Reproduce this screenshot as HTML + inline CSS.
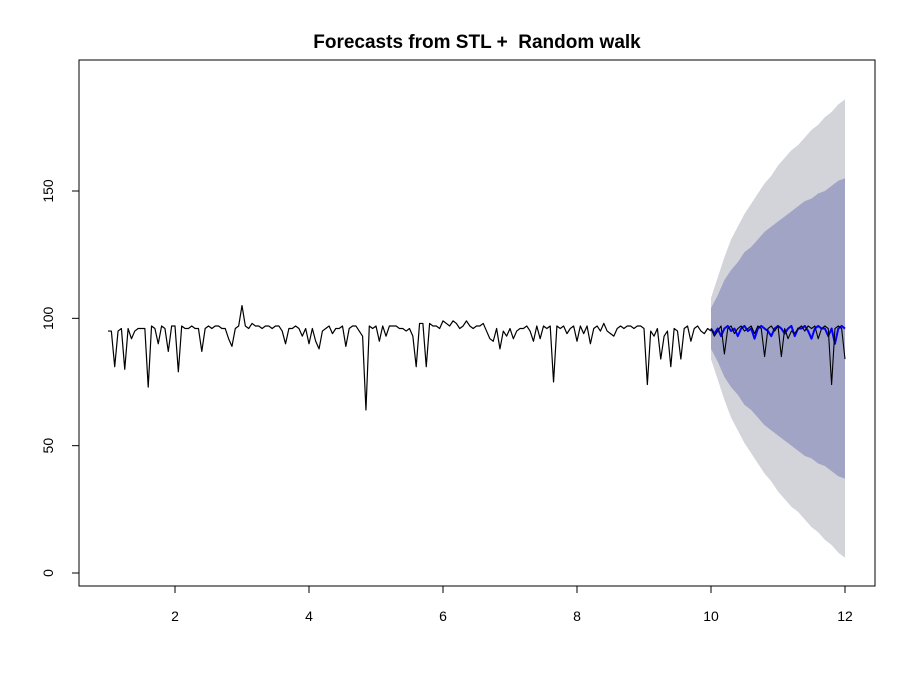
<!DOCTYPE html>
<html><head><meta charset="utf-8"><style>
body{margin:0;background:#fff;}
svg text{font-family:"Liberation Sans",sans-serif;}
</style></head><body>
<svg id="chart" width="915" height="685">
<text x="477" y="48" text-anchor="middle" font-size="19" font-weight="bold">Forecasts from STL +&#160; Random walk</text>
<g id="bands"></g>
<g id="lines"></g>
<rect x="79" y="60" width="796" height="526" fill="none" stroke="#000"/>
<g id="axes"></g>
</svg>
<script>
const xTicks=[2,4,6,8,10,12];
const yTicks=[0,50,100,150];
const histStart=1, step=0.05;
const history=[95,95,81,95,96,80,96,92,95,96,96,96,73,97,96,90,97,96,87,97,97,79,97,96,96,97,96,96,87,96,97,96,97,97,96,96,92,89,96,97,105,97,96,98,97,97,96,97,97,96,97,97,95,90,96,96,97,96,93,96,90,96,91,88,95,96,97,94,96,96,97,89,96,97,97,95,93,64,97,96,97,91,97,93,97,97,97,96,96,95,96,93,81,98,98,81,98,97,97,96,99,98,97,99,98,96,97,99,97,96,97,97,98,95,92,91,96,88,95,93,96,92,95,96,96,97,95,91,97,92,97,96,97,75,97,96,97,94,96,97,91,97,94,97,90,96,97,95,98,95,94,93,96,97,96,97,97,96,97,97,96,74,95,93,96,84,93,95,81,96,95,84,96,97,91,96,97,95,94,96,95];
const testStart=10;
const testData=[96,93,95,97,86,96,97,94,96,97,95,96,97,94,97,96,85,96,97,95,97,85,96,92,95,94,96,97,95,97,96,97,92,96,97,96,74,96,97,96,84];
const forecast=[96,94,96,93,96,97,95,96,93,96,97,95,96,92,96,97,96,95,93,96,97,96,94,96,97,93,96,96,97,95,92,96,97,96,96,93,96,90,96,97,96];
const bandStart=10, bandStep=0.1;
const outerUpper=[108,116,124,131,136,141,145,149,153,156,160,163,166,168,171,174,176,179,181,184,186];
const outerLower=[84,76,68,61,56,51,47,43,39,36,32,29,26,24,21,18,16,13,11,8,6];
const innerUpper=[104,109,115,119,122,126,128,131,134,136,138,140,142,144,146,147,149,150,152,154,155];
const innerLower=[88,83,77,73,70,66,64,61,58,56,54,52,50,48,46,45,43,42,40,38,37];
const NS="http://www.w3.org/2000/svg";
const X=v=>108+(v-1)*67;
const Y=v=>573-v*2.5467;
function el(t,a,p){const e=document.createElementNS(NS,t);for(const k in a)e.setAttribute(k,a[k]);p.appendChild(e);return e;}
function band(up,lo,fill,name){
  let pts=[];
  up.forEach((v,i)=>pts.push(X(bandStart+i*bandStep)+','+Y(v)));
  for(let i=lo.length-1;i>=0;i--)pts.push(X(bandStart+i*bandStep)+','+Y(lo[i]));
  const p=el('polygon',{points:pts.join(' '),fill:fill},document.getElementById('bands'));
  
  
}
band(outerUpper,outerLower,'#d3d3da','band-95');
band(innerUpper,innerLower,'#a1a4c5','band-80');
function line(arr,start,color,w,name){
  const pts=arr.map((v,i)=>X(start+i*step)+','+Y(v)).join(' ');
  const p=el('polyline',{points:pts,fill:'none',stroke:color,'stroke-width':w,'stroke-linejoin':'round'},document.getElementById('lines'));
  
  
}
line(history,histStart,'#000',1.2,'history-line');
line(forecast,testStart,'#0000ff',2,'forecast-line');
line(testData,testStart,'#000',1.1,'test-line');
const ax=document.getElementById('axes');
el('line',{x1:X(2),x2:X(12),y1:586,y2:586,stroke:'#000'},ax);
xTicks.forEach(t=>{
  el('line',{x1:X(t),x2:X(t),y1:586,y2:593,stroke:'#000'},ax);
  const tx=el('text',{x:X(t),y:621,'text-anchor':'middle','font-size':14},ax);
  tx.textContent=t;
  
  
});
el('line',{x1:79,x2:79,y1:Y(0),y2:Y(150),stroke:'#000'},ax);
yTicks.forEach(t=>{
  el('line',{x1:72,x2:79,y1:Y(t),y2:Y(t),stroke:'#000'},ax);
  const tx=el('text',{x:53,y:Y(t),'text-anchor':'middle','font-size':14,transform:'rotate(-90 53 '+Y(t)+')'},ax);
  tx.textContent=t;
  
  
});
</script>
</body></html>
